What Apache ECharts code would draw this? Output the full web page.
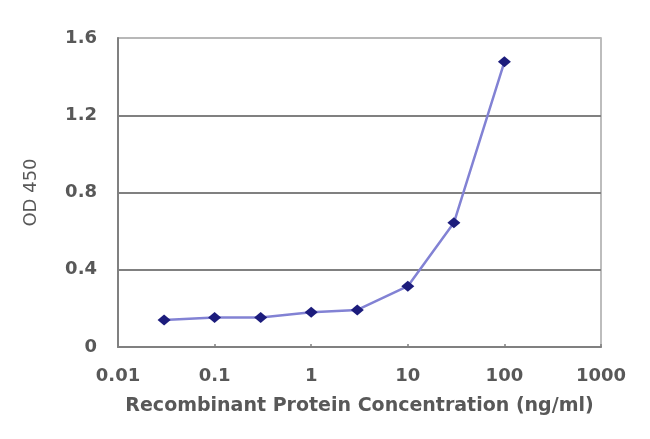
<!DOCTYPE html>
<html>
<head>
<meta charset="utf-8">
<script src="https://cdn.jsdelivr.net/npm/echarts@6/dist/echarts.min.js"></script>
<style>html,body{margin:0;padding:0;background:#fff;}#c{width:650px;height:439px;}</style>
</head>
<body>
<div id="c"></div>
<script>
const concentrations = [0.03, 0.1, 0.3, 1, 3, 10, 30, 100];
const od450 = [0.140, 0.153, 0.153, 0.180, 0.192, 0.315, 0.643, 1.477];
const yTicks = [0, 0.4, 0.8, 1.2, 1.6];
const xTicks = [0.01, 0.1, 1, 10, 100, 1000];
const xTitle = 'Recombinant Protein Concentration (ng/ml)';
const yTitle = 'OD 450';

const chart = echarts.init(document.getElementById('c'), null, {renderer: 'canvas'});
const font = 'DejaVu Sans';
const txt = '#585858';
chart.setOption({
  animation: false,
  backgroundColor: '#ffffff',
  grid: {left: 118, right: 49, top: 38, bottom: 92, show: true, borderColor: '#a8a8a8', borderWidth: 1.5, backgroundColor: 'transparent'},
  xAxis: {
    type: 'log', logBase: 10, min: xTicks[0], max: xTicks[xTicks.length - 1],
    name: xTitle, nameLocation: 'middle', nameGap: 50,
    nameTextStyle: {fontFamily: font, fontSize: 19, fontWeight: 'bold', color: txt},
    axisLine: {show: true, lineStyle: {color: '#808080', width: 2}},
    axisTick: {show: true, inside: true, length: 3, lineStyle: {color: '#808080', width: 1.5}},
    splitLine: {show: false},
    minorTick: {show: false},
    axisLabel: {fontFamily: font, fontSize: 18, fontWeight: 'bold', color: txt, margin: 20,
      formatter: function (v) { return String(+v.toPrecision(6)); }}
  },
  yAxis: {
    type: 'value', min: yTicks[0], max: yTicks[yTicks.length - 1], interval: 0.4,
    name: yTitle, nameLocation: 'middle', nameGap: 78, nameRotate: 90,
    nameTextStyle: {fontFamily: font, fontSize: 18, color: txt},
    axisLine: {show: true, lineStyle: {color: '#808080', width: 2}},
    axisTick: {show: false},
    splitLine: {show: true, lineStyle: {color: ['#808080', '#808080', '#808080', '#808080', '#b8b8b8'], width: 2}},
    axisLabel: {fontFamily: font, fontSize: 18, fontWeight: 'bold', color: txt, margin: 21,
      formatter: function (v) { return String(+v.toFixed(1)).replace(/^0\.0$/, '0'); }}
  },
  series: [{
    type: 'line',
    data: concentrations.map((c, i) => [c, od450[i]]),
    symbol: 'diamond', symbolSize: [13, 11],
    lineStyle: {color: '#8282d4', width: 2.5},
    itemStyle: {color: '#1c1c7c'},
    z: 5
  }]
});
</script>
</body>
</html>
